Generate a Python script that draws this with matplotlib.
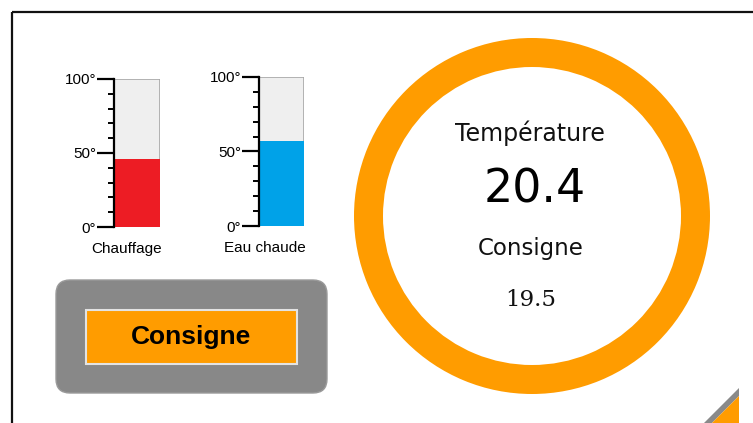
#!/usr/bin/env python3
"""
Heating dashboard panel: two thermometer gauges, a setpoint button
and the room-temperature ring.

Output: out.png (753 x 423 px)
"""

import matplotlib
matplotlib.use('Agg')
import matplotlib.pyplot as plt
from matplotlib.patches import Wedge, FancyBboxPatch, Polygon

# --- data -------------------------------------------------------------
gauge_names = ['Chauffage', 'Eau chaude']
gauge_values = [46, 57]
gauge_colors = ['#ed1c24', '#00a2e8']
gauge_major = [0, 50, 100]
gauge_major_labels = ['0°', '50°', '100°']

temp_title = 'Température'
temp_value = 20.4
setpoint_title = 'Consigne'
setpoint_value = 19.5
button_label = 'Consigne'

ORANGE = '#ff9c00'

W, H, DPI = 753, 423, 100


def fig_rect(x0, y0, x1, y1):
    """Pixel box (top-left origin) -> figure fraction rect."""
    return [x0 / W, 1 - y1 / H, (x1 - x0) / W, (y1 - y0) / H]


def draw_background(fig):
    bg = fig.add_axes([0, 0, 1, 1], zorder=0)
    bg.set_xlim(0, W)
    bg.set_ylim(H, 0)
    bg.axis('off')

    # frame (top and left edges only visible)
    bg.plot([12, W + 5], [12, 12], color='#111111', lw=1.6, solid_capstyle='butt')
    bg.plot([12, 12], [12, H + 5], color='#111111', lw=1.6, solid_capstyle='butt')

    # setpoint button
    bg.add_patch(FancyBboxPatch((68, 292), 247, 89,
                                boxstyle='round,pad=12,rounding_size=14',
                                fc='#888888', ec='#9a9a9a', lw=1))
    bg.add_patch(FancyBboxPatch((86, 310), 211, 54, boxstyle='square,pad=0',
                                fc=ORANGE, ec='#e3e3e3', lw=1.5))
    bg.text(191, 337, button_label, ha='center', va='center',
            fontsize=19, fontweight='bold', family='Liberation Sans', color='black')

    # temperature ring
    cx, cy, r = 532, 216, 178
    bg.add_patch(Wedge((cx, cy), r, 0, 360, width=29, fc=ORANGE, ec='none'))
    bg.text(cx - 2, 133, temp_title, ha='center', va='center',
            fontsize=17, family='DejaVu Sans', color='#111111')
    bg.text(cx + 3, 190, f'{temp_value:.1f}', ha='center', va='center',
            fontsize=33, family='DejaVu Sans', color='black')
    bg.text(cx - 1, 249, setpoint_title, ha='center', va='center',
            fontsize=16.5, family='DejaVu Sans', color='#111111')
    bg.text(cx - 1, 300, f'{setpoint_value:.1f}', ha='center', va='center',
            fontsize=16.5, family='DejaVu Serif', color='#111111')

    # corner tab, bottom right
    bg.add_patch(Polygon([(739, 388), (739, 396), (712, 423), (704, 423)],
                         closed=True, fc='#8a8a8a', ec='none'))
    bg.add_patch(Polygon([(739, 396), (739, 423), (712, 423)],
                         closed=True, fc=ORANGE, ec='none'))
    return bg


def draw_gauge(fig, box, name, value, color):
    ax = fig.add_axes(fig_rect(*box), zorder=2)
    ax.set_xlim(0, 1)
    ax.set_ylim(0, 100)
    ax.bar([0], [100], width=1, align='edge', color='#efefef',
           edgecolor='#a8a8a8', linewidth=1.2)
    ax.bar([0], [value], width=1, align='edge', color=color, edgecolor='none')

    for side in ('top', 'right', 'bottom'):
        ax.spines[side].set_visible(False)
    ax.spines['left'].set_linewidth(1.6)
    ax.spines['left'].set_zorder(5)

    ax.set_xticks([])
    ax.set_yticks(gauge_major)
    ax.set_yticklabels(gauge_major_labels, family='Liberation Sans',
                       fontsize=11, color='black')
    ax.set_yticks(range(10, 100, 10), minor=True)
    ax.tick_params(axis='y', which='major', length=12, width=1.6, pad=1)
    ax.tick_params(axis='y', which='minor', length=4.5, width=1.4)
    ax.set_facecolor('none')

    # caption under the gauge, right-aligned with the bar
    ax.text(1.04, -0.10, name, transform=ax.transAxes, ha='right', va='top',
            family='Liberation Sans', fontsize=11, color='black')
    return ax


def main():
    fig = plt.figure(figsize=(W / DPI, H / DPI), dpi=DPI, facecolor='white')
    draw_background(fig)

    boxes = [(114, 79, 160, 227), (259, 77, 304, 226)]
    for box, name, val, col in zip(boxes, gauge_names, gauge_values, gauge_colors):
        draw_gauge(fig, box, name, val, col)

    fig.savefig('out.png', dpi=DPI, facecolor='white')
    plt.close(fig)


if __name__ == '__main__':
    main()
